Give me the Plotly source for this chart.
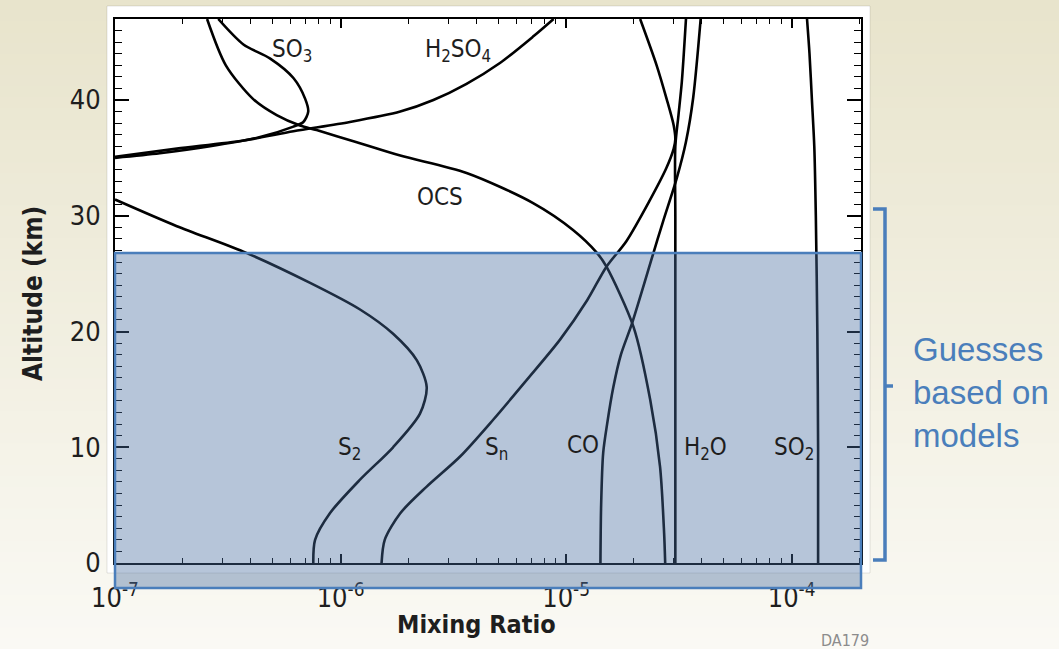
import plotly.graph_objects as go
import numpy as np

# ---------------- data (mixing ratio vs altitude, km) ----------------
s2_alt = [0, 2.0, 4.3, 7.2, 10.0, 12.9, 15.2, 17.5, 19.8, 21.9, 24.2, 26.9, 29.1, 31.4]
s2_mr = [7.57e-7, 7.71e-7, 8.97e-7, 1.22e-6, 1.71e-6, 2.25e-6, 2.41e-6, 2.18e-6,
         1.71e-6, 1.22e-6, 7.33e-7, 3.71e-7, 1.88e-7, 1.0e-7]

sn_alt = [0, 2.0, 4.3, 6.6, 9.2, 12.4, 15.8, 19.3, 22.7, 25.6, 27.8, 31.2, 34.1,
          35.8, 36.6, 37.8, 40.1, 43.0, 47.0]
sn_mr = [1.52e-6, 1.57e-6, 1.84e-6, 2.41e-6, 3.39e-6, 4.76e-6, 6.68e-6, 9.40e-6,
         1.24e-5, 1.51e-5, 1.85e-5, 2.33e-5, 2.78e-5, 3.00e-5, 3.05e-5, 3.00e-5,
         2.79e-5, 2.52e-5, 2.13e-5]

co_alt = [0, 5, 9.5, 12.0, 15.2, 18.0, 20.7, 26.8, 29.5, 33.3, 36.4, 40.2, 47.0]
co_mr = [1.42e-5, 1.43e-5, 1.46e-5, 1.52e-5, 1.62e-5, 1.75e-5, 1.96e-5, 2.44e-5,
         2.69e-5, 3.10e-5, 3.40e-5, 3.66e-5, 3.95e-5]

ocs_alt = [0, 2.6, 8.3, 14.1, 20.4, 25.6, 26.8, 28.8, 31.1, 33.7, 35.2, 36.4,
           37.4, 37.8, 38.7, 40.1, 43.0, 47.0]
ocs_mr = [2.75e-5, 2.72e-5, 2.61e-5, 2.36e-5, 1.99e-5, 1.51e-5, 1.37e-5, 1.07e-5,
          7.14e-6, 3.62e-6, 1.84e-6, 1.16e-6, 7.83e-7, 6.61e-7, 5.21e-7, 4.09e-7,
          3.10e-7, 2.56e-7]

h2o_alt = [0, 10, 20, 30, 36, 38.7, 41.6, 47.0]
h2o_mr = [3.05e-5, 3.05e-5, 3.05e-5, 3.05e-5, 3.05e-5, 3.15e-5, 3.26e-5, 3.40e-5]

so2_alt = [0, 10, 20, 30, 36, 40, 44, 47]
so2_mr = [1.31e-4, 1.31e-4, 1.30e-4, 1.28e-4, 1.26e-4, 1.23e-4, 1.20e-4, 1.17e-4]

so3_alt = [35.0, 35.4, 36.0, 36.8, 37.7, 38.1, 39.0, 40.1, 41.9, 43.6, 44.8, 47.0]
so3_mr = [1.0e-7, 1.58e-7, 2.64e-7, 4.40e-7, 6.18e-7, 6.84e-7, 7.19e-7, 6.97e-7,
          6.18e-7, 4.86e-7, 3.71e-7, 2.87e-7]

h2so4_alt = [35.1, 35.8, 36.5, 37.3, 38.1, 39.0, 40.0, 41.4, 43.2, 45.5, 47.0]
h2so4_mr = [1.0e-7, 1.88e-7, 3.71e-7, 6.18e-7, 1.10e-6, 1.84e-6, 2.58e-6, 3.62e-6,
            5.09e-6, 7.16e-6, 8.80e-6]

# label text and (mixing ratio, altitude) anchor
label_text = ["SO<sub>3</sub>", "H<sub>2</sub>SO<sub>4</sub>", "OCS", "S<sub>2</sub>",
              "S<sub>n</sub>", "CO", "H<sub>2</sub>O", "SO<sub>2</sub>"]
label_mr = [6.1e-7, 3.32e-6, 2.76e-6, 1.10e-6, 4.9e-6, 1.19e-5, 4.13e-5, 1.02e-4]
label_alt = [44.3, 44.3, 31.6, 9.9, 9.9, 10.2, 9.9, 9.9]

x_tickvals = [1e-7, 1e-6, 1e-5, 1e-4]
x_ticktext = ["10<sup>-7</sup>", "10<sup>-6</sup>", "10<sup>-5</sup>", "10<sup>-4</sup>"]
y_tickvals = [0, 10, 20, 30, 40]

# ---------------- geometry helpers (pixels -> paper) ----------------
W, H = 1059, 649
L, R, T, B = 115, 861, 19, 563


def px(xp):
    return (xp - L) / (R - L)


def py(yp):
    return (B - yp) / (B - T)


NARROW = "Liberation Sans Narrow, Arial Narrow, DejaVu Sans Condensed, sans-serif"
SANS = "Liberation Sans, Arial, Helvetica, sans-serif"
BLUE = "#4A7EBB"
INK = "#1e1e1e"

fig = go.Figure()

series = [(s2_mr, s2_alt), (sn_mr, sn_alt), (co_mr, co_alt), (ocs_mr, ocs_alt),
          (h2o_mr, h2o_alt), (so2_mr, so2_alt), (so3_mr, so3_alt), (h2so4_mr, h2so4_alt)]
for xs, ys in series:
    fig.add_trace(go.Scatter(x=xs, y=ys, mode="lines",
                             line=dict(color="#000000", width=2.6, shape="spline", smoothing=0.8),
                             showlegend=False, hoverinfo="skip"))

shapes = []
# beige slide gradient
nb = 60
top_c = np.array([232, 228, 204])
bot_c = np.array([250, 249, 244])
for i in range(nb):
    t = i / (nb - 1)
    c = (top_c * (1 - t) + bot_c * t).round().astype(int)
    y0 = i * H / nb
    y1 = (i + 1) * H / nb + 1
    shapes.append(dict(type="rect", xref="paper", yref="paper", layer="below",
                       x0=px(0), x1=px(W), y0=py(y1), y1=py(y0),
                       fillcolor=f"rgb({c[0]},{c[1]},{c[2]})", line=dict(width=0)))
# white figure image area
shapes.append(dict(type="rect", xref="paper", yref="paper", layer="below",
                   x0=px(107), x1=px(870), y0=py(573), y1=py(6),
                   fillcolor="white", line=dict(color="rgba(0,0,0,0.10)", width=1)))
# translucent blue box
shapes.append(dict(type="rect", xref="paper", yref="paper", layer="above",
                   x0=px(115), x1=px(861), y0=py(588), y1=py(253),
                   fillcolor="rgba(72,110,160,0.4)", line=dict(color=BLUE, width=2.5)))
# bracket
path = (f"M {px(873)},{py(209)} L {px(885)},{py(209)} L {px(885)},{py(560)} L {px(873)},{py(560)} "
        f"M {px(885)},{py(386)} L {px(893)},{py(386)}")
shapes.append(dict(type="path", xref="paper", yref="paper", layer="above", path=path,
                   line=dict(color=BLUE, width=3.5)))

annotations = []
for txt, xm, ya in zip(label_text, label_mr, label_alt):
    annotations.append(dict(x=np.log10(xm), y=ya, xref="x", yref="y", text=txt, showarrow=False,
                            font=dict(family=NARROW, size=24, color=INK),
                            xanchor="center", yanchor="middle"))
annotations += [
    dict(x=px(476), y=py(624), xref="paper", yref="paper", text="Mixing Ratio", showarrow=False,
         font=dict(family=NARROW, size=25, color=INK, weight="bold"), xanchor="center", yanchor="middle"),
    dict(x=px(33), y=py(294), xref="paper", yref="paper", text="Altitude (km)", showarrow=False,
         textangle=-90, font=dict(family=NARROW, size=26, color=INK, weight="bold"),
         xanchor="center", yanchor="middle"),
    dict(x=px(845), y=py(640), xref="paper", yref="paper", text="DA179", showarrow=False,
         font=dict(family=NARROW, size=16, color="#8c8c8c"), xanchor="center", yanchor="middle"),
    dict(x=px(911), y=py(392), xref="paper", yref="paper", text="Guesses<br>based on<br>models",
         showarrow=False, align="left", font=dict(family=SANS, size=33, color=BLUE),
         xanchor="left", yanchor="middle"),
]

minor_x = [k * 10.0 ** e for e in range(-7, -3) for k in range(2, 10)]

fig.update_layout(
    width=W, height=H,
    margin=dict(l=L, r=W - R, t=T, b=H - B, pad=0),
    paper_bgcolor="rgb(240,237,222)", plot_bgcolor="rgba(0,0,0,0)",
    shapes=shapes, annotations=annotations,
    xaxis=dict(type="log", range=[-7, np.log10(2.03e-4)], showgrid=False, zeroline=False,
               showline=True, linecolor="black", linewidth=2, mirror="ticks",
               ticks="inside", ticklen=9, tickwidth=1.5, tickcolor="black",
               tickvals=x_tickvals, ticktext=x_ticktext, ticklabelstandoff=10,
               tickfont=dict(family=NARROW, size=27, color=INK),
               minor=dict(ticks="inside", ticklen=5, tickwidth=1.2, tickcolor="black", tickvals=minor_x)),
    yaxis=dict(range=[0, 47], showgrid=False, zeroline=False,
               showline=True, linecolor="black", linewidth=2, mirror="ticks",
               ticks="inside", ticklen=14, tickwidth=1.5, tickcolor="black",
               tickvals=y_tickvals, ticklabelstandoff=7,
               tickfont=dict(family=NARROW, size=27, color=INK),
               minor=dict(ticks="inside", ticklen=7, tickwidth=1.2, tickcolor="black", dtick=1)),
)

fig.write_html("out.html", config={"displayModeBar": False},
               post_script="document.body.style.margin='0';")
